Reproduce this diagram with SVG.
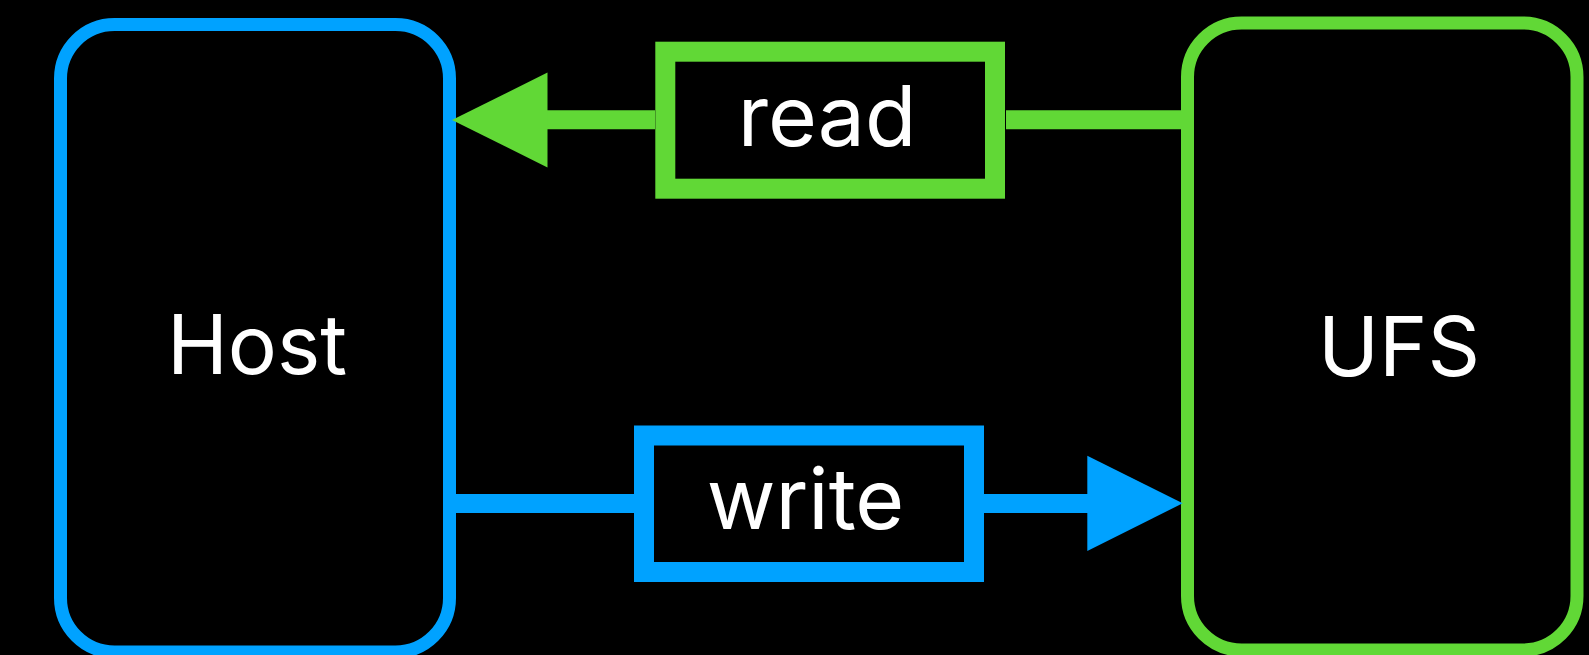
<svg xmlns="http://www.w3.org/2000/svg" width="1589" height="655" viewBox="0 0 1589 655">
<style>
.bg{fill:#000}
.node{fill:#000;stroke-width:13}
.blue{stroke:#00A2FF}
.green{stroke:#61D836}
.fblue{fill:#00A2FF}
.fgreen{fill:#61D836}
.line{fill:none;stroke-width:19}
.lbl{fill:#000;stroke-width:20}
.t{fill:#fff;font-family:Inter,"Liberation Sans",Arial,sans-serif;text-anchor:middle}
.big{font-size:82px}
.mid{font-size:84px}
</style>
<rect class="bg" x="0" y="0" width="1589" height="655"/>
<g id="host">
<rect class="node blue" x="60.5" y="24.5" width="389" height="627.5" rx="54" ry="54"/>
<text class="t big" x="257" y="374">Host</text>
</g>
<g id="ufs">
<rect class="node green" x="1187.5" y="23" width="389.5" height="627" rx="54" ry="54"/>
<text class="t big" x="1399" y="376">UFS</text>
</g>
<g id="connectors">
<g id="read-edge">
<line class="line green" x1="1006" y1="119.7" x2="1183" y2="119.7"/>
<line class="line green" x1="545" y1="119.7" x2="655" y2="119.7"/>
<polygon class="fgreen" points="452,120 547.5,72.5 547.5,167.5"/>
<g id="read-label">
<rect class="lbl green" x="665.3" y="51.7" width="329.7" height="137"/>
<text class="t mid" x="827" y="146">read</text>
</g>
</g>
<g id="write-edge">
<line class="line blue" x1="455" y1="503.5" x2="634" y2="503.5"/>
<line class="line blue" x1="984" y1="503.5" x2="1090" y2="503.5"/>
<polygon class="fblue" points="1182.7,503.3 1087.3,455.7 1087.3,550.9"/>
<g id="write-label">
<rect class="lbl blue" x="644" y="435.5" width="330" height="136.5"/>
<text class="t mid" x="805.5" y="528.5">write</text>
</g>
</g>
</g>
</svg>
